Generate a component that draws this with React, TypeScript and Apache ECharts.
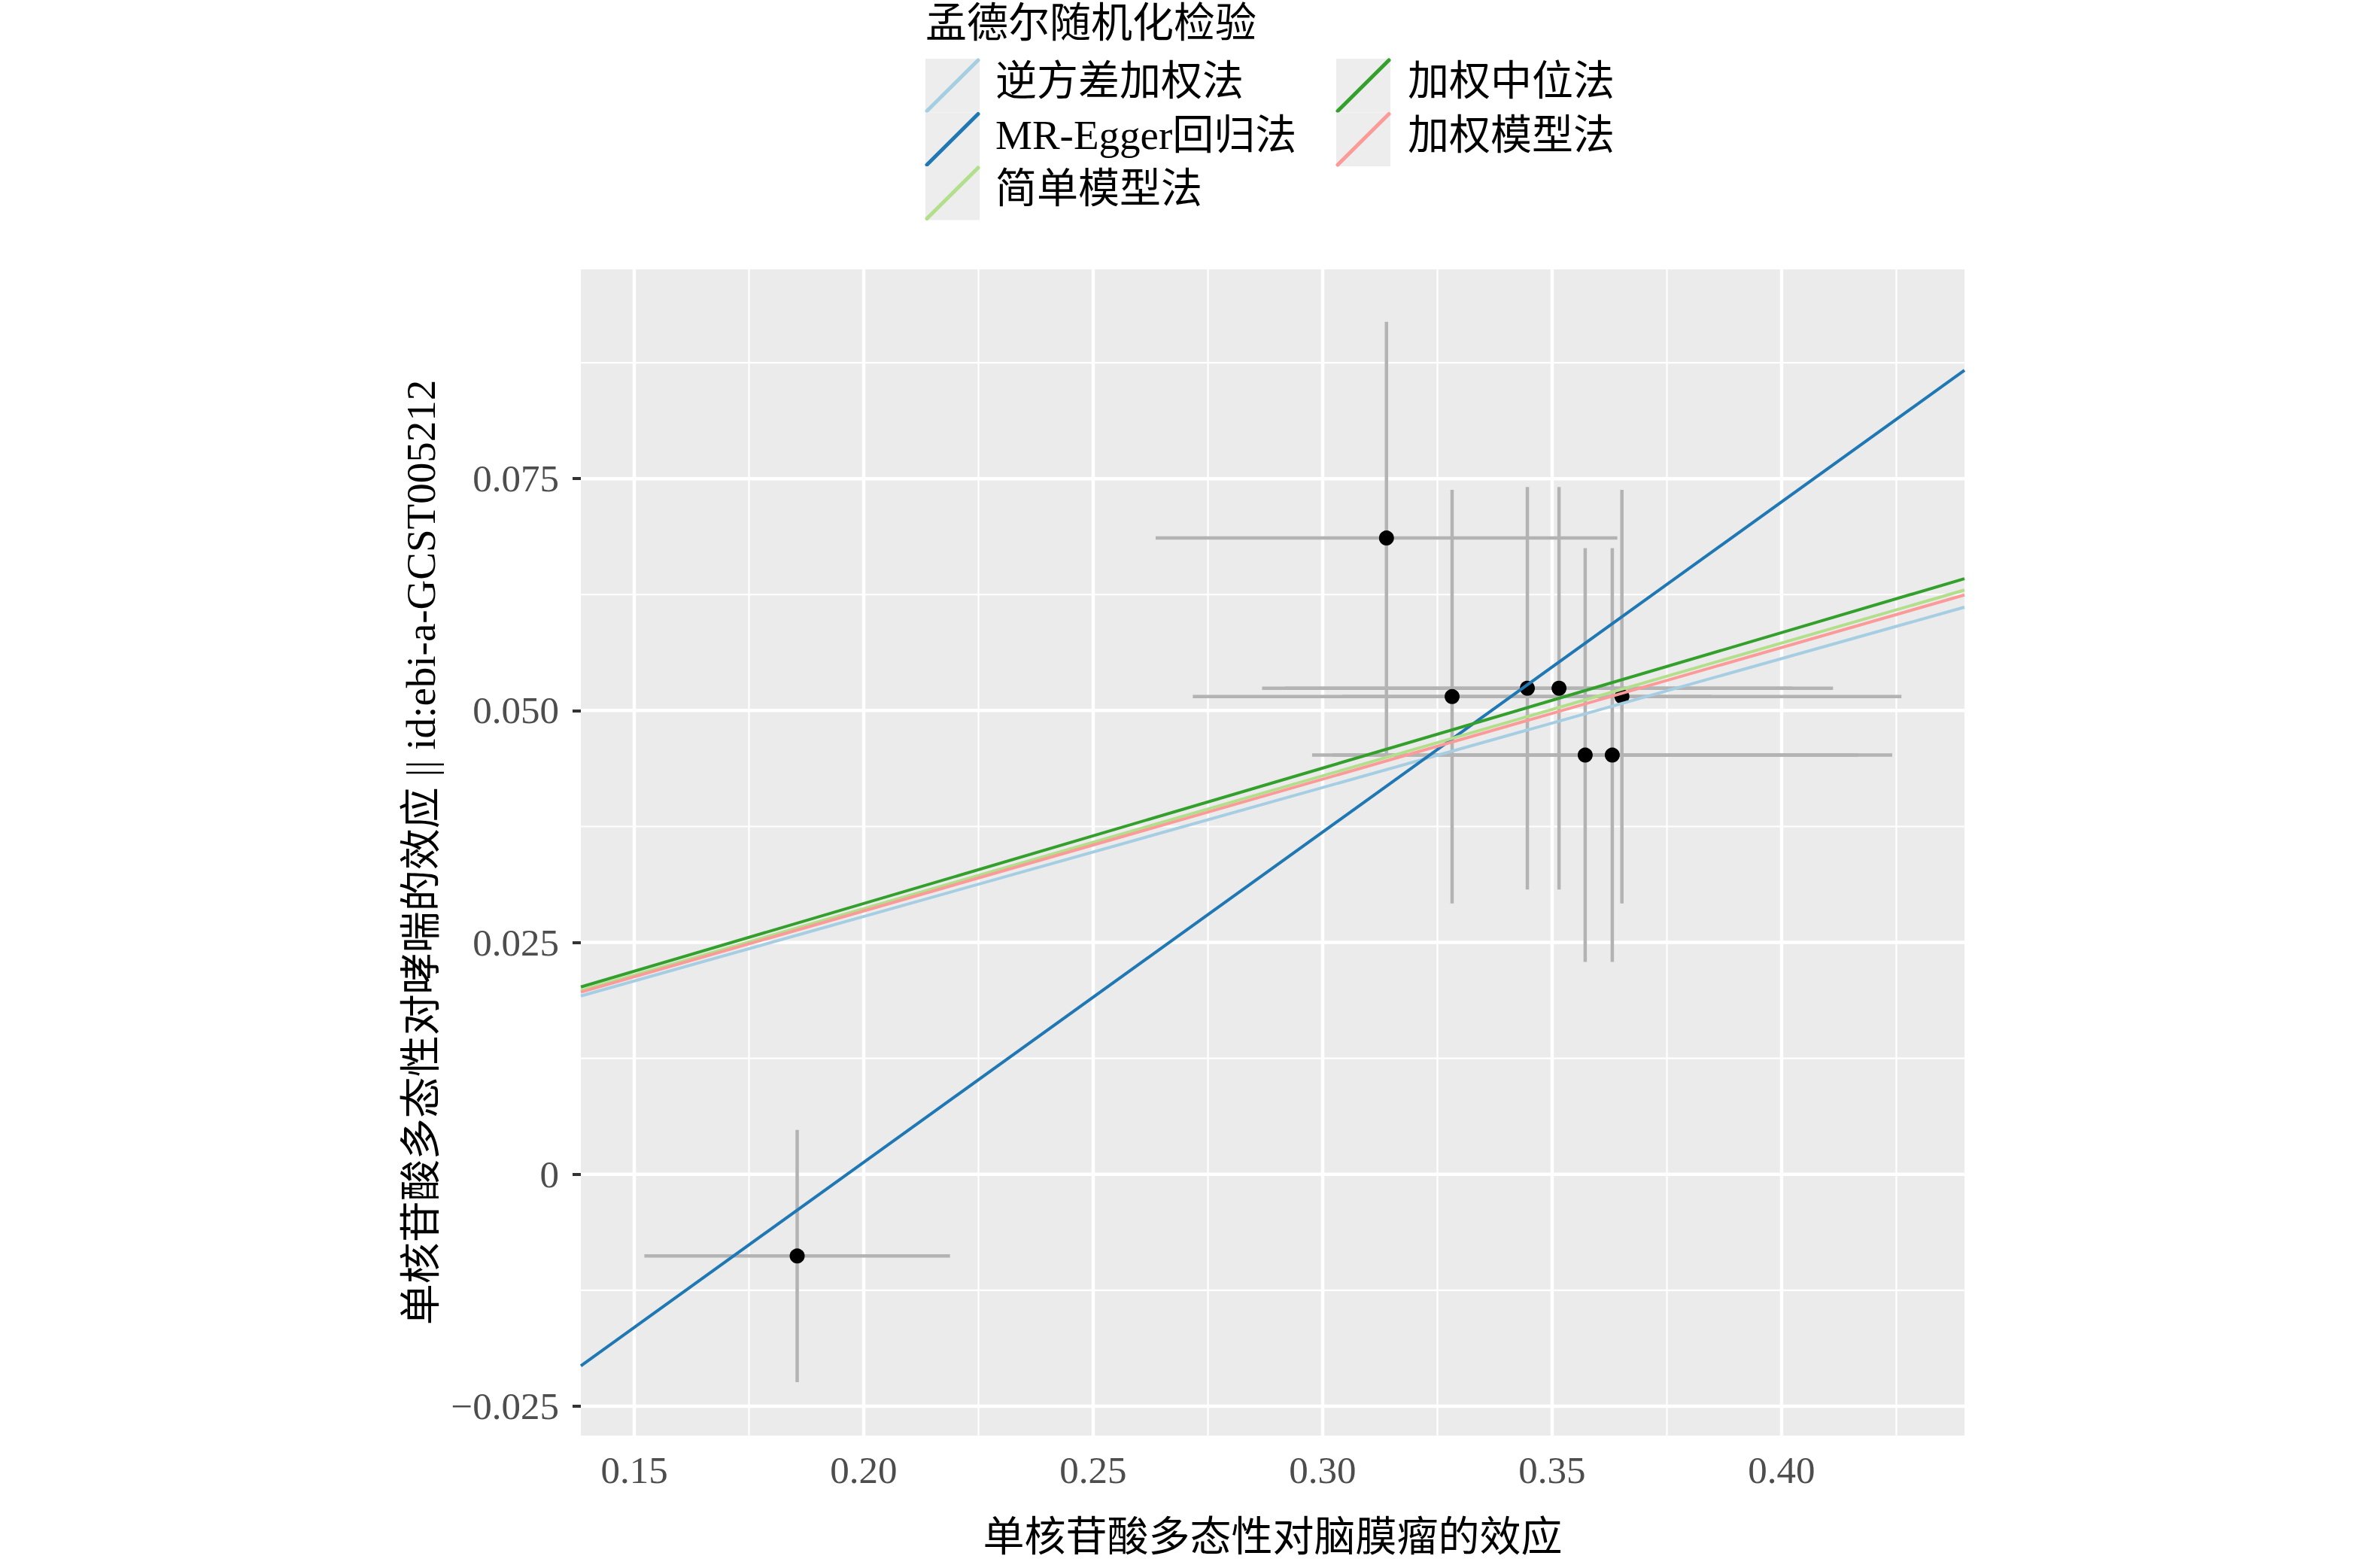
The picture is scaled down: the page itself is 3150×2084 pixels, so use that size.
import React, { useEffect, useRef } from "react";
import * as echarts from "echarts";

// ---- data ----
const snpBetaX = [0.1855, 0.3139, 0.3282, 0.3446, 0.3515, 0.3572, 0.3631, 0.3652];
const snpBetaY = [-0.0088, 0.0686, 0.0515, 0.0524, 0.0524, 0.0452, 0.0452, 0.0515];
const snpSeX = [0.0333, 0.0503, 0.0565, 0.0578, 0.0597, 0.0595, 0.061, 0.0609];
const snpSeY = [0.0136, 0.0233, 0.0223, 0.0217, 0.0217, 0.0223, 0.0223, 0.0223];

const methodNames = ["逆方差加权法", "MR-Egger回归法", "简单模型法", "加权中位法", "加权模型法"];
const methodSlopes = [0.139, 0.356, 0.1432, 0.146, 0.142];
const methodIntercepts = [0, -0.0699, 0, 0, 0];
const methodColors = ["#A6CEE3", "#1F78B4", "#B2DF8A", "#33A02C", "#FB9A99"];

const xTickValues = [0.15, 0.2, 0.25, 0.3, 0.35, 0.4];
const xTickLabels = ["0.15", "0.20", "0.25", "0.30", "0.35", "0.40"];
const xMinorValues = [0.175, 0.225, 0.275, 0.325, 0.375, 0.425];
const yTickValues = [-0.025, 0, 0.025, 0.05, 0.075];
const yTickLabels = ["\u22120.025", "0", "0.025", "0.050", "0.075"];
const yMinorValues = [-0.0125, 0.0125, 0.0375, 0.0625, 0.0875];

const X_MIN = 0.13836;
const X_MAX = 0.43984;
const Y_MIN = -0.02816;
const Y_MAX = 0.09756;

const legendTitle = "孟德尔随机化检验";
const xTitle = "单核苷酸多态性对脑膜瘤的效应";
const yTitle = "单核苷酸多态性对哮喘的效应 || id:ebi-a-GCST005212";

const FONT = "'Liberation Serif', 'Noto Sans CJK SC', serif";

function nearestLabel(v: number, vals: number[], labels: string[]) {
  let best = 0;
  for (let i = 1; i < vals.length; i++) {
    if (Math.abs(vals[i] - v) < Math.abs(vals[best] - v)) best = i;
  }
  return labels[best];
}

export default function App() {
  const ref = useRef<HTMLDivElement>(null);
  useEffect(() => {
    if (!ref.current) return;
    const chart = echarts.init(ref.current, null, { renderer: "svg" });

    const gridData: number[][] = [
      ...xMinorValues.map((v) => [v, 0, 0]),
      ...yMinorValues.map((v) => [v, 1, 0]),
      ...xTickValues.map((v) => [v, 0, 1]),
      ...yTickValues.map((v) => [v, 1, 1]),
    ];

    const errData = snpBetaX.map((x, i) => [x, snpBetaY[i], snpSeX[i], snpSeY[i]]);

    const lineSeries = methodNames.map((name, i) => ({
      name,
      type: "line",
      z: 5,
      showSymbol: false,
      silent: true,
      lineStyle: { color: methodColors[i], width: 4 },
      data: [
        [X_MIN, methodIntercepts[i] + methodSlopes[i] * X_MIN],
        [X_MAX, methodIntercepts[i] + methodSlopes[i] * X_MAX],
      ],
    }));

    // legend (drawn with graphic)
    const keyX = [1230, 1776];
    const textX = [1323, 1871];
    const rowTop = 78;
    const rowH = 71.5;
    const keyW = 72;
    const legendEls: any[] = [
      {
        type: "text",
        x: 1230,
        y: 30,
        style: {
          text: legendTitle,
          fontSize: 55,
          fontFamily: FONT,
          fill: "#000000",
          align: "left",
          verticalAlign: "middle",
          textAlign: "left",
          textVerticalAlign: "middle",
        },
      },
    ];
    methodNames.forEach((name, i) => {
      const col = i < 3 ? 0 : 1;
      const row = i < 3 ? i : i - 3;
      const y0 = rowTop + row * rowH;
      legendEls.push({
        type: "rect",
        shape: { x: keyX[col], y: y0, width: keyW, height: rowH },
        style: { fill: "#EDEDED" },
      });
      legendEls.push({
        type: "line",
        shape: { x1: keyX[col] + 2, y1: y0 + rowH - 2, x2: keyX[col] + keyW - 2, y2: y0 + 2 },
        style: { stroke: methodColors[i], lineWidth: 5, lineCap: "round" },
      });
      legendEls.push({
        type: "text",
        x: textX[col],
        y: y0 + rowH / 2 - 6,
        style: {
          text: name,
          fontSize: 55,
          fontFamily: FONT,
          fill: "#000000",
          align: "left",
          verticalAlign: "middle",
          textAlign: "left",
          textVerticalAlign: "middle",
        },
      });
    });

    const option: any = {
      animation: false,
      backgroundColor: "#FFFFFF",
      grid: {
        show: true,
        left: 772,
        top: 358,
        width: 1839,
        height: 1550,
        backgroundColor: "#EBEBEB",
        borderWidth: 0,
        containLabel: false,
      },
      xAxis: {
        type: "value",
        min: X_MIN,
        max: X_MAX,
        name: xTitle,
        nameLocation: "middle",
        nameGap: 107,
        nameTextStyle: { fontSize: 55, fontFamily: FONT, color: "#000000" },
        axisLine: { show: false },
        splitLine: { show: false },
        axisTick: {
          show: true,
          customValues: xTickValues,
          length: 11,
          lineStyle: { color: "#333333", width: 4 },
        },
        axisLabel: {
          show: true,
          customValues: xTickValues,
          margin: 20,
          fontSize: 51,
          fontFamily: FONT,
          color: "#4D4D4D",
          formatter: (v: number) => nearestLabel(v, xTickValues, xTickLabels),
        },
      },
      yAxis: {
        type: "value",
        min: Y_MIN,
        max: Y_MAX,
        name: yTitle,
        nameLocation: "middle",
        nameGap: 185,
        nameTextStyle: { fontSize: 55, fontFamily: FONT, color: "#000000" },
        axisLine: { show: false },
        splitLine: { show: false },
        axisTick: {
          show: true,
          customValues: yTickValues,
          length: 11,
          lineStyle: { color: "#333333", width: 4 },
        },
        axisLabel: {
          show: true,
          customValues: yTickValues,
          margin: 29,
          fontSize: 51,
          fontFamily: FONT,
          color: "#4D4D4D",
          formatter: (v: number) => nearestLabel(v, yTickValues, yTickLabels),
        },
      },
      graphic: legendEls,
      series: [
        {
          type: "custom",
          z: 1,
          silent: true,
          data: gridData,
          renderItem: (params: any, api: any) => {
            const v = api.value(0);
            const dir = api.value(1);
            const major = api.value(2);
            let p1, p2;
            if (dir === 0) {
              p1 = api.coord([v, Y_MIN]);
              p2 = api.coord([v, Y_MAX]);
            } else {
              p1 = api.coord([X_MIN, v]);
              p2 = api.coord([X_MAX, v]);
            }
            return {
              type: "line",
              shape: { x1: p1[0], y1: p1[1], x2: p2[0], y2: p2[1] },
              style: { stroke: "#FFFFFF", lineWidth: major ? 4.5 : 2.2 },
            };
          },
        },
        {
          type: "custom",
          z: 2,
          silent: true,
          data: errData,
          renderItem: (params: any, api: any) => {
            const x = api.value(0);
            const y = api.value(1);
            const sx = api.value(2);
            const sy = api.value(3);
            const h1 = api.coord([x - sx, y]);
            const h2 = api.coord([x + sx, y]);
            const v1 = api.coord([x, y - sy]);
            const v2 = api.coord([x, y + sy]);
            const st = { stroke: "#B3B3B3", lineWidth: 4.5 };
            return {
              type: "group",
              children: [
                { type: "line", shape: { x1: h1[0], y1: h1[1], x2: h2[0], y2: h2[1] }, style: st },
                { type: "line", shape: { x1: v1[0], y1: v1[1], x2: v2[0], y2: v2[1] }, style: st },
              ],
            };
          },
        },
        {
          type: "scatter",
          z: 3,
          silent: true,
          symbol: "circle",
          symbolSize: 20,
          itemStyle: { color: "#000000", opacity: 1 },
          data: snpBetaX.map((x, i) => [x, snpBetaY[i]]),
        },
        ...lineSeries,
      ],
    };

    chart.setOption(option);
    return () => chart.dispose();
  }, []);

  return (
    <div
      ref={ref}
      style={{ position: "fixed", left: 0, top: 0, width: "3150px", height: "2084px" }}
    />
  );
}
